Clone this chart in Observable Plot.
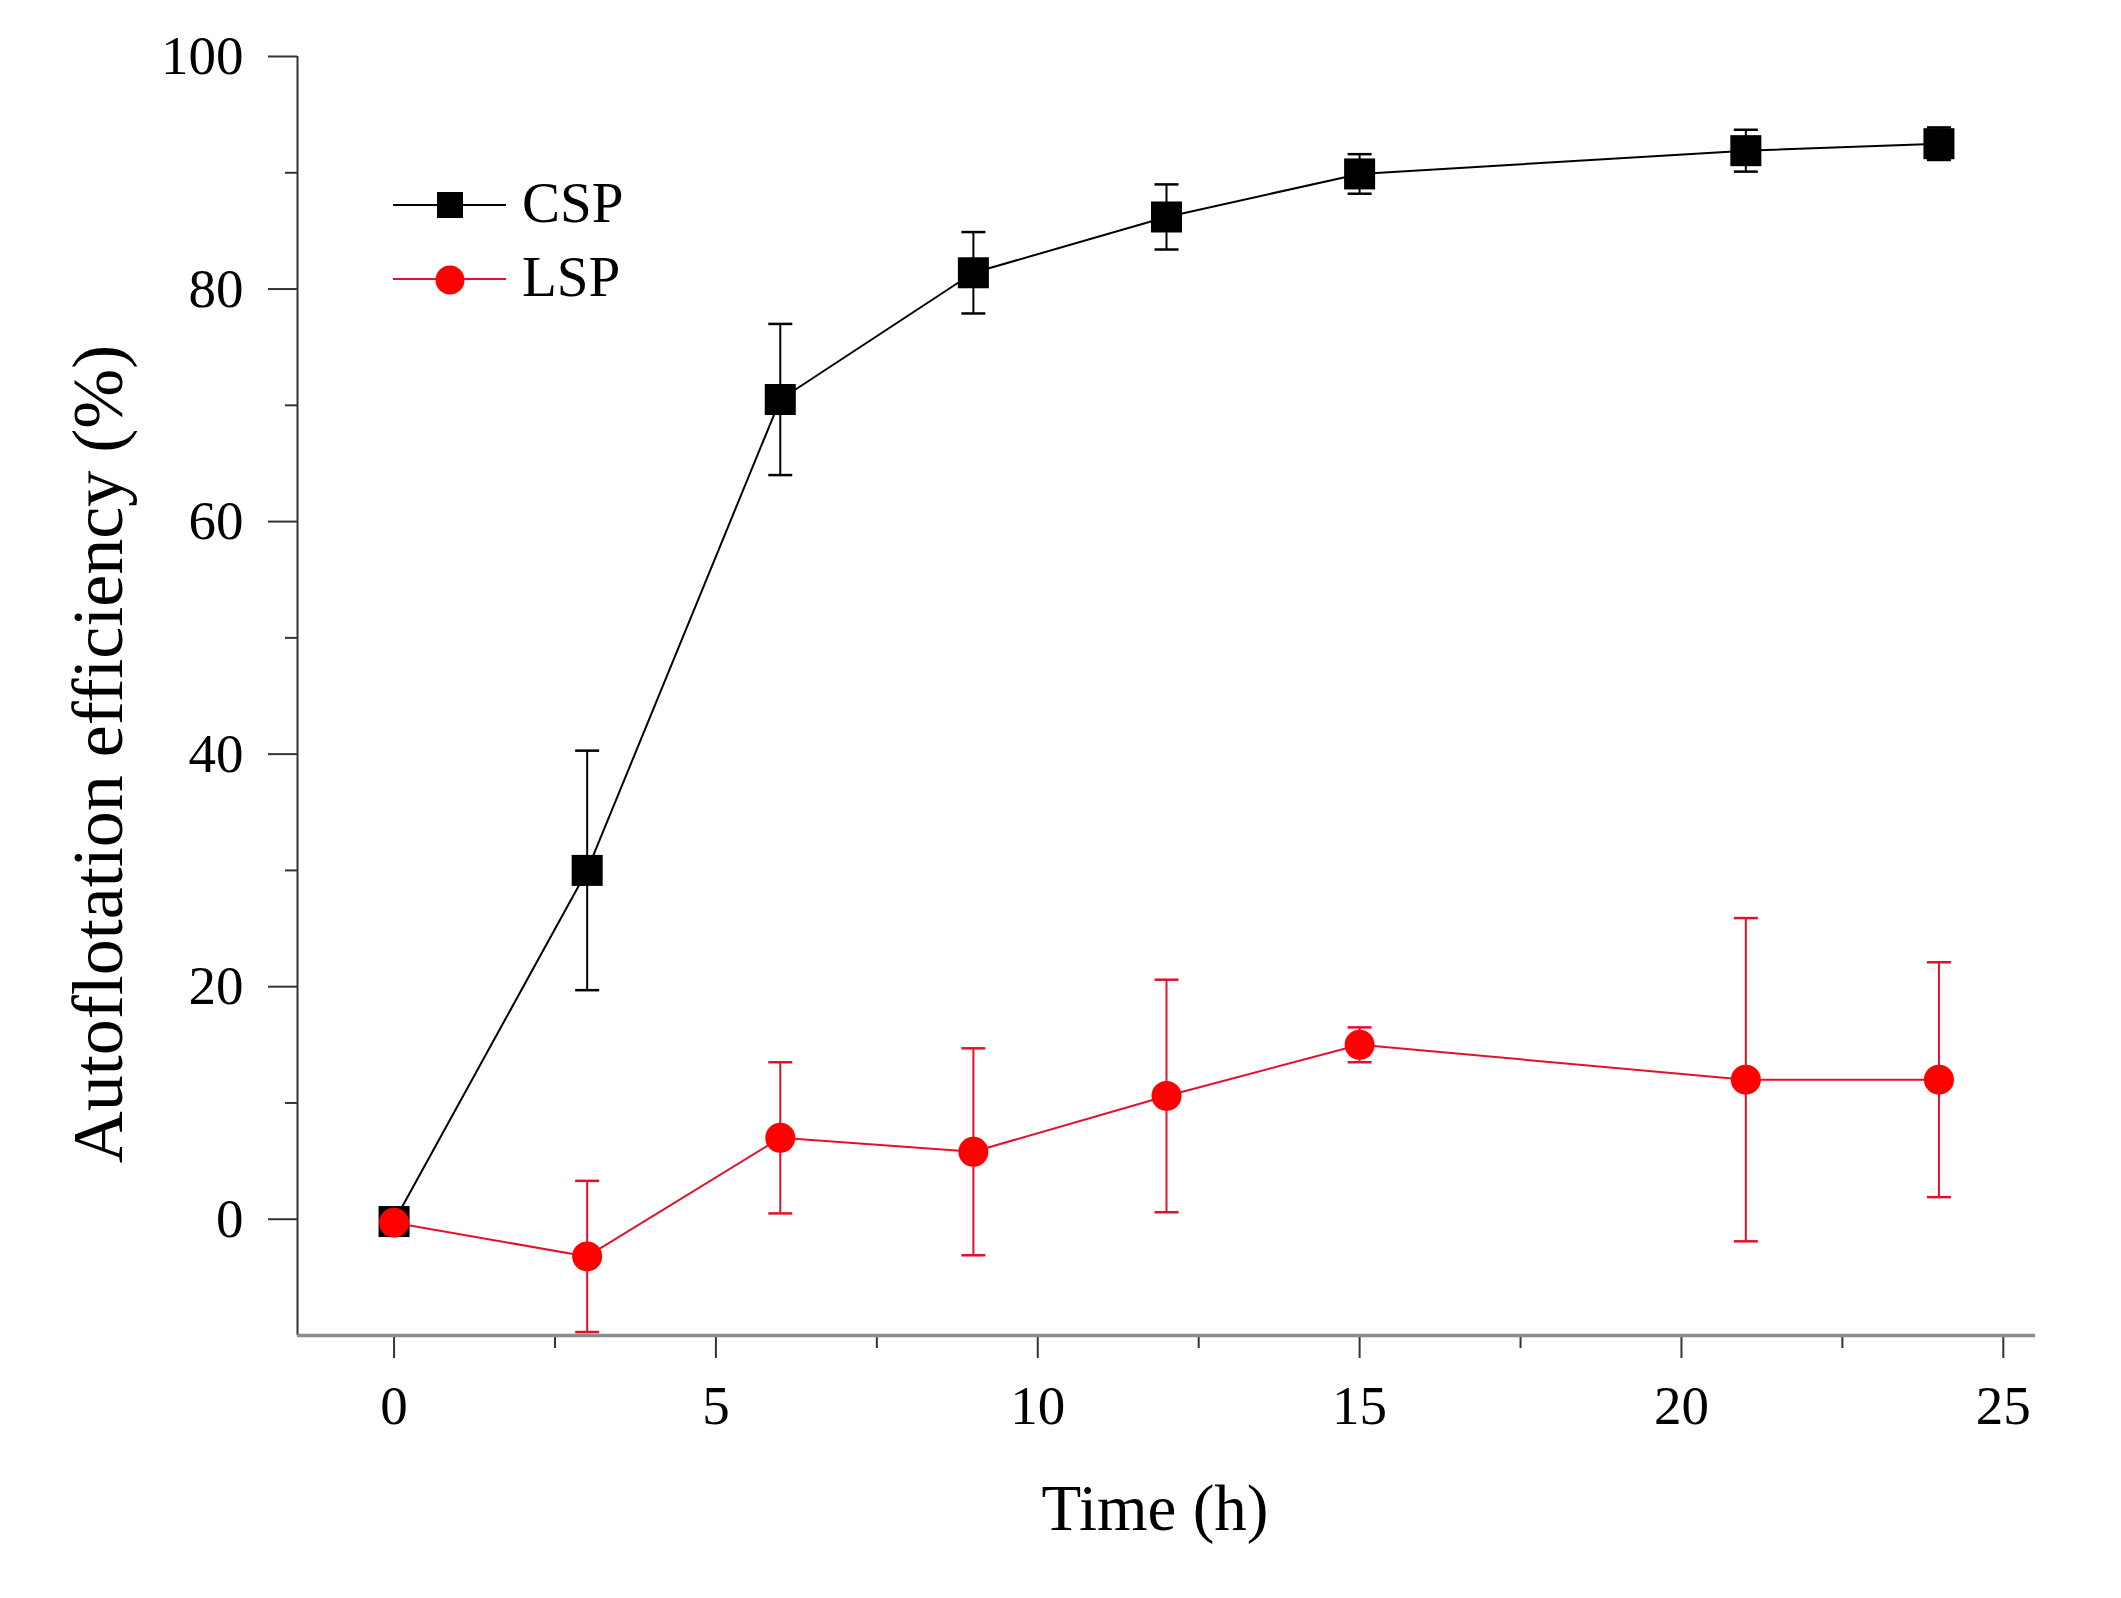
<!DOCTYPE html>
<html>
<head>
<meta charset="utf-8">
<script src="https://cdn.jsdelivr.net/npm/d3@7"></script>
<script src="https://cdn.jsdelivr.net/npm/@observablehq/plot@0.6"></script>
<style>
  body { margin: 0; background: white; }
  #chart svg { display: block; }
</style>
</head>
<body>
<div id="chart"></div>
<script>
// sampling times (h)
const times = [0, 3, 6, 9, 12, 15, 21, 24];
// autoflotation efficiency (%) and error bars
const cspMean = [-0.2, 30.0, 70.5, 81.4, 86.2, 89.9, 91.9, 92.5];
const cspErr  = [0.4, 10.3, 6.5, 3.5, 2.8, 1.7, 1.8, 1.4];
const lspMean = [-0.3, -3.2, 7.0, 5.8, 10.6, 15.0, 12.0, 12.0];
const lspErr  = [0.4, 6.5, 6.5, 8.9, 10.0, 1.5, 13.9, 10.1];

const xMajor = [0, 5, 10, 15, 20, 25];
const xMinor = [2.5, 7.5, 12.5, 17.5, 22.5];
const yMajor = [0, 20, 40, 60, 80, 100];
const yMinor = [10, 30, 50, 70, 90];

const csp = times.map((t, i) => ({time: t, value: cspMean[i], err: cspErr[i]}));
const lsp = times.map((t, i) => ({time: t, value: lspMean[i], err: lspErr[i]}));

const RED = "#ff0000";
const RED_LINE = "#e3102c";

// flat horizontal symbol used for the error bar caps
const cap = {
  draw(context, size) {
    const w = Math.sqrt(size) / 2;
    context.moveTo(-w, 0);
    context.lineTo(w, 0);
  }
};
const capR = 24 / Math.sqrt(Math.PI);

function errorMarks(data, color) {
  return [
    Plot.ruleX(data, {x: "time", y1: d => d.value - d.err, y2: d => d.value + d.err, stroke: color, strokeWidth: 2}),
    Plot.dot(data, {x: "time", y: d => d.value + d.err, symbol: cap, r: capR, stroke: color, fill: "none", strokeWidth: 2.5}),
    Plot.dot(data, {x: "time", y: d => d.value - d.err, symbol: cap, r: capR, stroke: color, fill: "none", strokeWidth: 2.5})
  ];
}

let chart = Plot.plot({
  width: 2121,
  height: 1598,
  marginLeft: 297,
  marginRight: 86,
  marginTop: 56,
  marginBottom: 263,
  x: {domain: [-1.5, 25.5]},
  y: {domain: [-10, 100]},
  style: {
    fontFamily: "Liberation Serif",
    fontSize: "55px",
    color: "black",
    background: "white"
  },
  marks: [
    Plot.axisX({ticks: xMajor, tickSize: 23, tickPadding: 26, label: null, stroke: "#333", strokeWidth: 2}),
    Plot.axisX({ticks: xMinor, tickSize: 13, tickFormat: () => "", label: null, stroke: "#333", strokeWidth: 2}),
    Plot.axisY({ticks: yMajor, tickSize: 29, tickPadding: 25, label: null, stroke: "#333", strokeWidth: 2}),
    Plot.axisY({ticks: yMinor, tickSize: 12, tickFormat: () => "", label: null, stroke: "#333", strokeWidth: 2}),
    Plot.ruleX([-1.5], {stroke: "#333", strokeWidth: 2}),
    Plot.ruleY([-10], {stroke: "#8c8c8c", strokeWidth: 3.5}),

    ...errorMarks(csp, "black"),
    Plot.line(csp, {x: "time", y: "value", stroke: "black", strokeWidth: 2}),
    Plot.dot(csp, {x: "time", y: "value", symbol: "square", r: 17.5, fill: "black", stroke: "none"}),

    ...errorMarks(lsp, RED_LINE),
    Plot.line(lsp, {x: "time", y: "value", stroke: RED_LINE, strokeWidth: 2}),
    Plot.dot(lsp, {x: "time", y: "value", r: 15, fill: RED, stroke: "none"})
  ]
});

d3.select("#chart").append(() => chart);

const svg = d3.select(chart);

// axis titles
svg.append("text")
  .attr("transform", "translate(122,754) rotate(-90)")
  .attr("text-anchor", "middle")
  .attr("font-family", "Liberation Serif")
  .attr("font-size", 72)
  .attr("fill", "black")
  .text("Autoflotation efficiency (%)");

svg.append("text")
  .attr("x", 1155)
  .attr("y", 1530)
  .attr("text-anchor", "middle")
  .attr("font-family", "Liberation Serif")
  .attr("font-size", 65)
  .attr("fill", "black")
  .text("Time (h)");

// legend
const legend = svg.append("g")
  .attr("font-family", "Liberation Serif")
  .attr("font-size", 57)
  .attr("text-anchor", "start");
legend.append("line").attr("x1", 393).attr("x2", 506).attr("y1", 205).attr("y2", 205)
  .attr("stroke", "black").attr("stroke-width", 2);
legend.append("rect").attr("x", 437).attr("y", 192).attr("width", 26).attr("height", 26).attr("fill", "black");
legend.append("text").attr("x", 522).attr("y", 222).text("CSP");

legend.append("line").attr("x1", 393).attr("x2", 506).attr("y1", 279).attr("y2", 279)
  .attr("stroke", RED_LINE).attr("stroke-width", 2);
legend.append("circle").attr("cx", 450).attr("cy", 280).attr("r", 14.5).attr("fill", RED);
legend.append("text").attr("x", 522).attr("y", 296).text("LSP");
</script>
</body>
</html>
